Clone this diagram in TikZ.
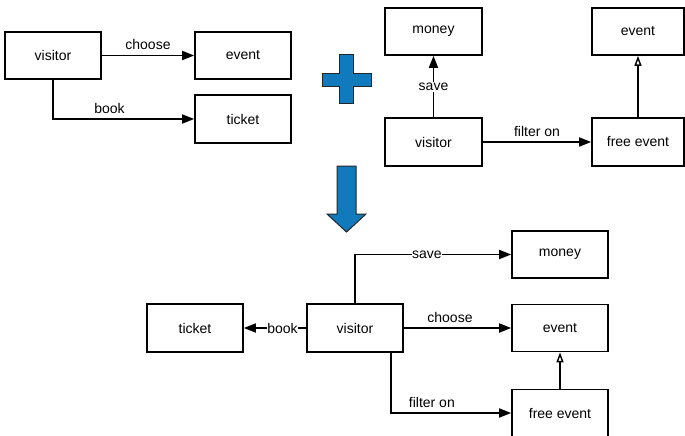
\documentclass[tikz,border=0pt]{standalone}
\usepackage{fontspec}
\setmainfont{Liberation Sans}
\usetikzlibrary{arrows.meta}
\definecolor{opblue}{RGB}{16,122,188}
\tikzset{
  box/.style={draw, line width=1.7pt, minimum width=96pt, minimum height=47pt, inner sep=0pt,
    font=\fontsize{14}{16}\selectfont},
  rel/.style={line width=1.7pt, -{Triangle[length=12pt,width=9pt]}},
  isa/.style={line width=1.7pt, -{Triangle[open,length=10pt,width=7pt,line width=1.4pt]}},
  lbl/.style={font=\fontsize{14}{16}\selectfont, inner sep=1pt},
  onlbl/.style={lbl, fill=white, inner xsep=0.3pt},
  opshape/.style={fill=opblue, draw=black!85, line width=1pt, line join=miter}
}
\begin{document}
\begin{tikzpicture}[x=1pt,y=-1pt]
\useasboundingbox (0,0) rectangle (685,436);

% first model
\node[box] (v1) at (53,55.5) {visitor};
\node[box] (e1) at (243,55.5) {event};
\node[box, minimum height=48pt] (t1) at (243,119) {ticket};
\draw[rel] (v1.east) -- (e1.west) node[lbl, midway, above=4pt] {choose};
\draw[rel] (v1.south) |- (t1.west) node[lbl, pos=0.70, above=4pt] {book};

% second model
\node[box, minimum width=97pt] (m2) at (433.5,31.5) {money};
\node[box, minimum width=92pt] (e2) at (638,31.5) {event};
\node[box, minimum width=97pt, minimum height=48pt] (v2) at (433.5,142) {visitor};
\node[box, minimum width=92pt, minimum height=48pt] (f2) at (638,142) {free event};
\draw[rel] (v2.north) -- (m2.south) node[onlbl, pos=0.49] {save};
\draw[rel] (v2.east) -- (f2.west) node[lbl, midway, above=4pt] {filter on};
\draw[isa] (f2.north) -- (e2.south);

% plus sign
\draw[opshape] (339,55) -- (353,55) -- (353,73) -- (371,73) -- (371,86) -- (353,86)
  -- (353,103) -- (339,103) -- (339,86) -- (322,86) -- (322,73) -- (339,73) -- cycle;

% downward arrow
\draw[opshape] (337,166) -- (356,166) -- (356,214) -- (366,214) -- (346.5,232)
  -- (327,214) -- (337,214) -- cycle;

% merged model
\node[box, minimum height=48pt] (t3) at (195,328) {ticket};
\node[box, minimum height=48pt] (v3) at (355,328) {visitor};
\node[box] (m3) at (560,254.5) {money};
\node[box] (e3) at (560,328) {event};
\node[box] (f3) at (560,413) {free event};
\draw[rel] (v3.west) -- (t3.east) node[onlbl, pos=0.38] {book};
\draw[rel] (v3.north) |- (m3.west) node[onlbl, pos=0.73] {save};
\draw[rel] (v3.east) -- (e3.west) node[lbl, pos=0.43, above=4pt] {choose};
\draw[rel] ([xshift=36pt]v3.south) |- (f3.west) node[lbl, pos=0.67, above=4pt] {filter on};
\draw[isa] (f3.north) -- (e3.south);
\end{tikzpicture}
\end{document}
